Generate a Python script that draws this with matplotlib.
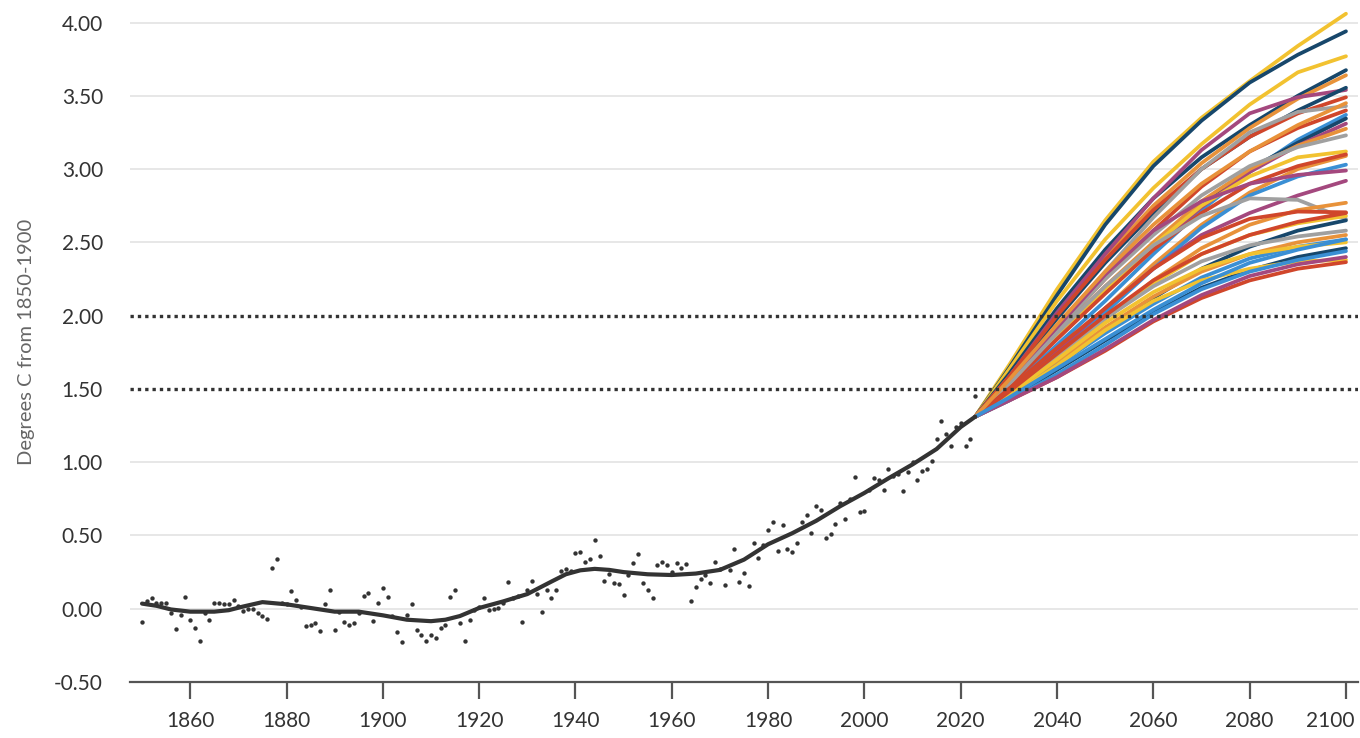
import numpy as np
import matplotlib
matplotlib.use("Agg")
import matplotlib.pyplot as plt
from matplotlib.transforms import ScaledTranslation

plt.rcParams['font.family'] = ['Lato', 'DejaVu Sans']

# observed annual anomaly, degrees C from 1850-1900
obs_years = np.arange(1850, 2024)
obs_values = [
    -0.09, 0.05, 0.07, 0.04, 0.04, 0.04, -0.03, -0.14, -0.04, 0.08,      # 1850s
    -0.075, -0.13, -0.22, -0.03, -0.075, 0.04, 0.04, 0.03, 0.03, 0.06,   # 1860s
    0.02, -0.016, 0.0, 0.0, -0.03, -0.05, -0.07, 0.28, 0.34, 0.04,       # 1870s
    0.03, 0.12, 0.06, 0.01, -0.12, -0.11, -0.10, -0.155, 0.03, 0.125,    # 1880s
    -0.145, -0.02, -0.09, -0.11, -0.10, -0.03, 0.09, 0.11, -0.085, 0.04, # 1890s
    0.14, 0.08, -0.05, -0.16, -0.23, -0.045, 0.03, -0.145, -0.18, -0.22, # 1900s
    -0.18, -0.20, -0.13, -0.11, 0.08, 0.13, -0.095, -0.22, -0.08, -0.01, # 1910s
    0.01, 0.075, -0.01, 0.0, 0.005, 0.04, 0.18, 0.07, 0.09, -0.09,       # 1920s
    0.125, 0.19, 0.10, -0.02, 0.13, 0.075, 0.13, 0.26, 0.27, 0.26,       # 1930s
    0.38, 0.39, 0.32, 0.34, 0.47, 0.36, 0.19, 0.24, 0.175, 0.17,         # 1940s
    0.095, 0.23, 0.31, 0.37, 0.175, 0.13, 0.07, 0.30, 0.32, 0.30,        # 1950s
    0.25, 0.31, 0.28, 0.305, 0.05, 0.15, 0.20, 0.23, 0.175, 0.32,        # 1960s
    0.27, 0.16, 0.265, 0.41, 0.18, 0.245, 0.155, 0.45, 0.345, 0.435,     # 1970s
    0.54, 0.59, 0.395, 0.57, 0.41, 0.39, 0.45, 0.59, 0.64, 0.52,         # 1980s
    0.70, 0.675, 0.48, 0.51, 0.58, 0.72, 0.61, 0.75, 0.90, 0.66,         # 1990s
    0.67, 0.81, 0.89, 0.88, 0.81, 0.95, 0.905, 0.92, 0.80, 0.93,         # 2000s
    1.00, 0.88, 0.94, 0.95, 1.01, 1.16, 1.28, 1.19, 1.11, 1.24,          # 2010s
    1.27, 1.11, 1.155, 1.45,                                             # 2020s
]

# smoothed trend line
trend_years = [1850, 1853, 1856, 1860, 1865, 1868, 1871, 1875, 1880, 1885,
               1890, 1895, 1900, 1905, 1910, 1913, 1916, 1920, 1925, 1930,
               1935, 1938, 1941, 1944, 1947, 1950, 1955, 1960, 1965, 1970,
               1975, 1980, 1985, 1990, 1995, 2000, 2005, 2010, 2015, 2020, 2023]
trend_values = [0.035, 0.02, -0.005, -0.02, -0.02, -0.01, 0.015, 0.045, 0.03, 0.005,
                -0.02, -0.02, -0.045, -0.075, -0.085, -0.075, -0.05, 0.005, 0.05, 0.10,
                0.185, 0.235, 0.262, 0.272, 0.265, 0.25, 0.235, 0.23, 0.24, 0.265,
                0.335, 0.44, 0.515, 0.60, 0.70, 0.79, 0.89, 0.985, 1.09, 1.24, 1.31]

# model projections
proj_years = [2023, 2030, 2040, 2050, 2060, 2070, 2080, 2090, 2100]
YEL, BLU, ORA, RED, PUR, GRY, LBL = ('#f2c230', '#17476b', '#e8923a', '#d0462b',
                                      '#a4487e', '#a0a0a0', '#3a8fd4')
proj_colors = [YEL, BLU, YEL, BLU, ORA, PUR, BLU, RED, GRY, RED,
               LBL, BLU, PUR, ORA, GRY, YEL, ORA, RED, LBL, PUR,
               PUR, GRY, ORA, RED, BLU, YEL, GRY, ORA, LBL, YEL,
               BLU, YEL, RED, LBL, PUR, RED, ORA, LBL]
proj_values = [
    [1.31, 1.66, 2.18, 2.65, 3.05, 3.35, 3.60, 3.84, 4.06],
    [1.31, 1.64, 2.14, 2.62, 3.02, 3.33, 3.59, 3.78, 3.94],
    [1.31, 1.63, 2.10, 2.52, 2.87, 3.17, 3.44, 3.66, 3.77],
    [1.31, 1.60, 2.05, 2.45, 2.80, 3.08, 3.30, 3.50, 3.675],
    [1.31, 1.58, 2.00, 2.40, 2.75, 3.04, 3.28, 3.48, 3.64],
    [1.31, 1.58, 2.02, 2.42, 2.80, 3.13, 3.38, 3.49, 3.54],
    [1.31, 1.57, 1.98, 2.36, 2.70, 3.00, 3.22, 3.40, 3.555],
    [1.31, 1.58, 2.00, 2.38, 2.72, 3.00, 3.22, 3.38, 3.49],
    [1.31, 1.55, 1.92, 2.30, 2.67, 3.00, 3.25, 3.39, 3.43],
    [1.31, 1.55, 1.90, 2.25, 2.58, 2.88, 3.12, 3.28, 3.40],
    [1.31, 1.50, 1.80, 2.10, 2.42, 2.72, 2.98, 3.20, 3.37],
    [1.31, 1.53, 1.86, 2.18, 2.48, 2.76, 3.00, 3.18, 3.345],
    [1.31, 1.52, 1.84, 2.16, 2.46, 2.74, 2.98, 3.16, 3.31],
    [1.31, 1.54, 1.88, 2.20, 2.50, 2.78, 3.00, 3.16, 3.275],
    [1.31, 1.54, 1.90, 2.25, 2.55, 2.82, 3.02, 3.15, 3.23],
    [1.31, 1.53, 1.86, 2.18, 2.48, 2.75, 2.95, 3.08, 3.12],
    [1.31, 1.48, 1.76, 2.05, 2.35, 2.62, 2.84, 3.00, 3.09],
    [1.31, 1.52, 1.84, 2.15, 2.45, 2.70, 2.90, 3.02, 3.10],
    [1.31, 1.47, 1.74, 2.02, 2.32, 2.60, 2.82, 2.95, 3.03],
    [1.31, 1.55, 1.92, 2.28, 2.58, 2.78, 2.90, 2.96, 2.99],
    [1.31, 1.48, 1.76, 2.05, 2.32, 2.55, 2.70, 2.82, 2.92],
    [1.31, 1.53, 1.88, 2.20, 2.48, 2.68, 2.80, 2.79, 2.66],
    [1.31, 1.46, 1.72, 1.98, 2.24, 2.46, 2.62, 2.72, 2.77],
    [1.31, 1.50, 1.78, 2.05, 2.32, 2.53, 2.66, 2.71, 2.705],
    [1.31, 1.44, 1.66, 1.90, 2.12, 2.32, 2.47, 2.58, 2.65],
    [1.31, 1.47, 1.72, 1.98, 2.22, 2.42, 2.55, 2.63, 2.68],
    [1.31, 1.47, 1.72, 1.98, 2.20, 2.37, 2.48, 2.54, 2.58],
    [1.31, 1.45, 1.68, 1.92, 2.13, 2.30, 2.42, 2.50, 2.55],
    [1.31, 1.44, 1.66, 1.88, 2.08, 2.26, 2.39, 2.47, 2.52],
    [1.31, 1.46, 1.70, 1.95, 2.16, 2.32, 2.42, 2.47, 2.50],
    [1.31, 1.43, 1.63, 1.83, 2.02, 2.19, 2.31, 2.40, 2.46],
    [1.31, 1.44, 1.66, 1.90, 2.10, 2.24, 2.32, 2.37, 2.38],
    [1.31, 1.42, 1.58, 1.76, 1.96, 2.12, 2.24, 2.32, 2.365],
    [1.31, 1.42, 1.60, 1.80, 2.01, 2.18, 2.30, 2.38, 2.44],
    [1.31, 1.42, 1.58, 1.77, 1.97, 2.14, 2.27, 2.35, 2.40],
    [1.31, 1.48, 1.74, 2.00, 2.24, 2.42, 2.55, 2.64, 2.70],
    [1.31, 1.56, 1.94, 2.30, 2.62, 2.90, 3.12, 3.30, 3.45],
    [1.31, 1.44, 1.64, 1.84, 2.04, 2.22, 2.36, 2.45, 2.52],
]

y_ticks = [-0.5, 0.0, 0.5, 1.0, 1.5, 2.0, 2.5, 3.0, 3.5, 4.0]
x_ticks = [1860, 1880, 1900, 1920, 1940, 1960, 1980, 2000, 2020, 2040, 2060, 2080, 2100]
limits = [1.5, 2.0]

fig = plt.figure(figsize=(13.6, 7.38), dpi=100)
ax = fig.add_axes([130 / 1360, 56 / 738, 1228 / 1360, 680 / 738])

for y in y_ticks[1:]:
    if y not in limits:
        ax.axhline(y, color='#e3e3e3', lw=1.2, zorder=0)

ax.scatter(obs_years, obs_values, s=10, color='#333333', lw=0, zorder=2)
ax.plot(trend_years, trend_values, color='#333333', lw=3, solid_capstyle='round',
        solid_joinstyle='round', zorder=3)

for vals, c in zip(proj_values, proj_colors):
    ax.plot(proj_years, vals, color=c, lw=2.7, solid_capstyle='round',
            solid_joinstyle='round', zorder=2)

for y in limits:
    ax.axhline(y, color='#333333', lw=2.4, ls=(0, (1, 1.2)), zorder=4)

ax.set_xlim(1847.5, 2102.5)
ax.set_ylim(-0.5, 4.14)
ax.set_yticks(y_ticks)
ax.set_yticklabels([f"{v:.2f}" for v in y_ticks])
ax.set_xticks(x_ticks)

for s in ['top', 'right', 'left']:
    ax.spines[s].set_visible(False)
ax.spines['bottom'].set_color('#555555')
ax.spines['bottom'].set_linewidth(1.6)

ax.tick_params(axis='y', length=0, pad=19.5, labelsize=15, labelcolor='#333333')
ax.tick_params(axis='x', length=12, width=1.6, color='#555555', pad=9,
               labelsize=15, labelcolor='#333333')
ax.set_ylabel("Degrees C from 1850-1900", fontsize=14.5, color='#666666', labelpad=14)

# keep the last year label inside the figure, like the original
last = ax.get_xticklabels()[-1]
last.set_horizontalalignment('right')
last.set_transform(last.get_transform() + ScaledTranslation(9 / 100, 0, fig.dpi_scale_trans))

plt.savefig("out.png", dpi=100)
